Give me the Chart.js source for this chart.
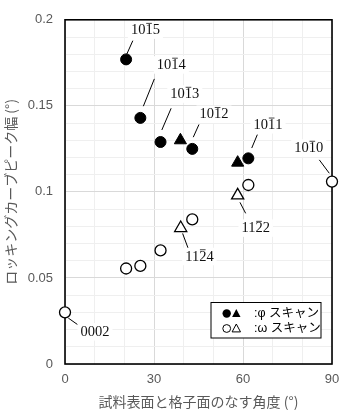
<!DOCTYPE html>
<html>
<head>
<meta charset="utf-8">
<script src="https://cdn.jsdelivr.net/npm/chart.js@4/dist/chart.umd.min.js"></script>
<style>
  body { margin: 0; background: #fff; }
</style>
</head>
<body>
<canvas id="rockingChart" width="363" height="418"></canvas>
<script>
// datos: ancho de pico (°) frente al ángulo entre la superficie y el plano (°)
const phiCircleX = [20.6, 25.4, 32.2, 42.9, 61.8];
const phiCircleY = [0.177, 0.143, 0.129, 0.125, 0.1195];
const phiTriX = [38.9, 58.2];
const phiTriY = [0.130, 0.117];
const omegaCircleX = [0, 20.6, 25.4, 32.2, 42.9, 61.8, 90];
const omegaCircleY = [0.030, 0.0555, 0.057, 0.066, 0.084, 0.104, 0.106];
const omegaTriX = [39.0, 58.2];
const omegaTriY = [0.079, 0.098];

// índices de Miller-Bravais: [antes, cifra con barra, después]
const planeNames = [
  ['10', '1', '5'], ['10', '1', '4'], ['10', '1', '3'], ['10', '1', '2'], ['10', '1', '1'],
  ['10', '1', '0'], ['11', '2', '2'], ['11', '2', '4'], ['0002', '', '']
];
// a qué punto (dataset, índice) pertenece cada etiqueta
const planeAnchors = [[0, 0], [0, 1], [0, 2], [0, 3], [0, 4], [2, 6], [3, 1], [3, 0], [2, 0]];

const xTitle = '試料表面と格子面のなす角度 (°)';
const yTitle = 'ロッキングカーブピーク幅 (°)';
const legendRows = [':φ スキャン', ':ω スキャン'];

// posición de las etiquetas respecto al punto (px): texto dx,dy y línea guía
const labelLayout = [
  { dx: 19.3, dy: -29, l: [0.7, -5.3, 6.7, -18.7] },
  { dx: 31, dy: -52.7, l: [3, -11.7, 14, -39] },
  { dx: 24.3, dy: -47.7, l: [1.3, -12, 10.6, -33.7] },
  { dx: 21.7, dy: -34.4, l: [1, -11.7, 6.7, -24.4] },
  { dx: 19.7, dy: -33.3, l: [3.4, -10.3, 9, -23.7] },
  { dx: -23.3, dy: -33.3, l: [-12.7, -21.7, -2.7, -8.3] },
  { dx: 18, dy: 33, l: [2.3, 7, 8, 18] },
  { dx: 18.7, dy: 28.7, l: [1.9, 5.4, 7.5, 20.4] },
  { dx: 30, dy: 19.7, l: [3.3, 5.7, 12.7, 12.3] }
];

const gray = '#595959';
const labelFont = "14.5px 'Liberation Serif'";

function pts(xs, ys) {
  return xs.map((x, i) => ({ x: x, y: ys[i] }));
}

function drawPlaneLabel(ctx, parts, cx, cy) {
  ctx.font = labelFont;
  const w0 = ctx.measureText(parts[0]).width;
  const w1 = ctx.measureText(parts[1]).width;
  const w2 = ctx.measureText(parts[2]).width;
  const total = w0 + w1 + w2;
  let x = cx - total / 2;
  ctx.fillStyle = '#fff';
  ctx.fillRect(x - 3, cy - 9, total + 6, 17.5);
  ctx.fillStyle = '#111';
  ctx.textBaseline = 'middle';
  ctx.textAlign = 'left';
  ctx.fillText(parts[0], x, cy);
  ctx.fillText(parts[1], x + w0, cy);
  ctx.fillText(parts[2], x + w0 + w1, cy);
  if (parts[1]) {
    ctx.strokeStyle = '#444';
    ctx.lineWidth = 1;
    ctx.beginPath();
    ctx.moveTo(x + w0 + 0.8, cy - 7);
    ctx.lineTo(x + w0 + w1 - 0.8, cy - 7);
    ctx.stroke();
  }
}

const overlay = {
  id: 'overlay',
  beforeDatasetsDraw(chart) {
    const { ctx, chartArea: a } = chart;
    ctx.save();
    ctx.strokeStyle = '#000';
    ctx.lineWidth = 1.6;
    ctx.strokeRect(a.left, a.top, a.right - a.left, a.bottom - a.top);
    ctx.restore();
  },
  afterDatasetsDraw(chart) {
    const { ctx, chartArea: a } = chart;
    ctx.save();
    // etiquetas y líneas guía
    planeNames.forEach((parts, k) => {
      const [d, i] = planeAnchors[k];
      const p = chart.getDatasetMeta(d).data[i];
      const lay = labelLayout[k];
      ctx.strokeStyle = '#000';
      ctx.lineWidth = 1;
      ctx.beginPath();
      ctx.moveTo(p.x + lay.l[0], p.y + lay.l[1]);
      ctx.lineTo(p.x + lay.l[2], p.y + lay.l[3]);
      ctx.stroke();
      drawPlaneLabel(ctx, parts, p.x + lay.dx, p.y + lay.dy);
    });

    // leyenda
    const bx = a.right - 121, by = a.bottom - 61.5, bw = 110, bh = 35.5;
    ctx.fillStyle = '#fff';
    ctx.fillRect(bx, by, bw, bh);
    ctx.strokeStyle = '#000';
    ctx.lineWidth = 1;
    ctx.strokeRect(bx, by, bw, bh);
    legendRows.forEach((txt, r) => {
      const cy = by + 11 + r * 15;
      const filled = r === 0;
      ctx.fillStyle = '#000';
      ctx.strokeStyle = '#000';
      ctx.lineWidth = 1;
      ctx.beginPath();
      ctx.arc(bx + 15.7, cy, filled ? 4.2 : 3.9, 0, Math.PI * 2);
      filled ? ctx.fill() : ctx.stroke();
      ctx.beginPath();
      ctx.moveTo(bx + 25.3, cy - 4.5);
      ctx.lineTo(bx + 29.5, cy + 3.4);
      ctx.lineTo(bx + 21.1, cy + 3.4);
      ctx.closePath();
      filled ? ctx.fill() : ctx.stroke();
      ctx.font = "12.5px 'Liberation Sans', 'Noto Sans CJK JP'";
      ctx.textAlign = 'left';
      ctx.textBaseline = 'middle';
      ctx.fillText(txt, bx + 43, cy);
    });
    ctx.restore();
  }
};

new Chart(document.getElementById('rockingChart'), {
  type: 'scatter',
  data: {
    datasets: [
      { data: pts(phiCircleX, phiCircleY), pointStyle: 'circle', pointRadius: 5.5,
        backgroundColor: '#000', borderColor: '#000', borderWidth: 1, clip: false },
      { data: pts(phiTriX, phiTriY), pointStyle: 'triangle', pointRadius: 7,
        backgroundColor: '#000', borderColor: '#000', borderWidth: 1, clip: false },
      { data: pts(omegaCircleX, omegaCircleY), pointStyle: 'circle', pointRadius: 5.5,
        backgroundColor: '#fff', borderColor: '#000', borderWidth: 1.3, clip: false },
      { data: pts(omegaTriX, omegaTriY), pointStyle: 'triangle', pointRadius: 7,
        backgroundColor: '#fff', borderColor: '#000', borderWidth: 1.3, clip: false }
    ]
  },
  options: {
    responsive: false,
    animation: false,
    events: [],
    layout: { padding: { top: 16, right: 31, left: 0, bottom: 0 } },
    plugins: { legend: { display: false }, tooltip: { enabled: false } },
    scales: {
      x: {
        type: 'linear', min: 0, max: 90,
        border: { display: false },
        grid: {
          drawTicks: false,
          color: c => (c.tick && c.tick.value % 30 === 0) ? '#d9d9d9' : '#efefef'
        },
        ticks: {
          stepSize: 10, autoSkip: false, maxRotation: 0, padding: 8,
          color: gray, font: { family: "'Liberation Sans'", size: 13 },
          callback: v => (v % 30 === 0 ? String(v) : '')
        },
        title: {
          display: true, text: xTitle, color: gray,
          font: { family: "'Noto Sans CJK JP'", size: 14 },
          padding: { top: 0, bottom: 7.6 }
        },
        afterFit(s) { s.height = 54; }
      },
      y: {
        type: 'linear', min: 0, max: 0.2,
        border: { display: false },
        grid: {
          drawTicks: false,
          color: c => (c.tick && Math.round(c.tick.value * 100) % 5 === 0) ? '#d9d9d9' : '#efefef'
        },
        ticks: {
          stepSize: 0.01, autoSkip: false, padding: 12,
          color: gray, font: { family: "'Liberation Sans'", size: 13 },
          callback: v => (Math.round(v * 100) % 5 === 0 ? String(Math.round(v * 100) / 100) : '')
        },
        title: {
          display: true, text: yTitle, color: gray,
          font: { family: "'Noto Sans CJK JP'", size: 14 },
          padding: { top: 2, bottom: 0 }
        },
        afterFit(s) { s.width = 65; }
      }
    }
  },
  plugins: [overlay]
});
</script>
</body>
</html>
